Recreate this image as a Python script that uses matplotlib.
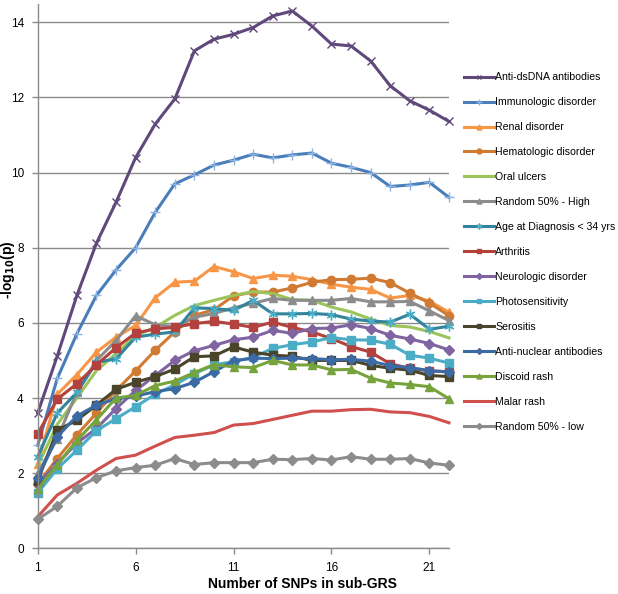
import matplotlib
matplotlib.use("Agg")
import matplotlib.pyplot as plt

plt.rcParams['font.family'] = ['Liberation Sans', 'DejaVu Sans']

n_snps = list(range(1, 23))

anti_dsdna = [3.6, 5.12, 6.73, 8.12, 9.21, 10.40, 11.29, 11.96, 13.24, 13.55, 13.68, 13.86,
              14.17, 14.30, 13.90, 13.42, 13.37, 12.97, 12.31, 11.91, 11.66, 11.36]
immunologic = [2.74, 4.52, 5.71, 6.73, 7.41, 8.0, 8.94, 9.70, 9.94, 10.20, 10.33, 10.49,
               10.39, 10.47, 10.52, 10.25, 10.14, 10.0, 9.63, 9.67, 9.74, 9.34]
renal = [2.25, 4.1, 4.62, 5.22, 5.62, 5.93, 6.67, 7.08, 7.11, 7.50, 7.36, 7.18,
         7.27, 7.24, 7.15, 7.03, 6.95, 6.89, 6.66, 6.73, 6.58, 6.28]
hematologic = [1.72, 2.39, 3.02, 3.6, 4.2, 4.72, 5.27, 5.76, 6.2, 6.35, 6.72, 6.82,
               6.82, 6.93, 7.08, 7.15, 7.16, 7.19, 7.07, 6.79, 6.53, 6.19]
oral_ulcers = [2.2, 3.3, 4.0, 4.73, 5.18, 5.66, 5.88, 6.2, 6.46, 6.6, 6.73, 6.83,
               6.78, 6.62, 6.6, 6.42, 6.29, 6.1, 5.93, 5.89, 5.77, 5.6]
random_high = [2.0, 2.92, 4.16, 5.0, 5.53, 6.19, 5.95, 5.9, 6.15, 6.25, 6.4, 6.52,
               6.65, 6.6, 6.6, 6.6, 6.65, 6.56, 6.56, 6.57, 6.32, 6.06]
age_lt34 = [2.44, 3.6, 4.15, 4.95, 5.04, 5.62, 5.7, 5.76, 6.4, 6.38, 6.33, 6.6,
            6.24, 6.24, 6.25, 6.22, 6.1, 6.05, 6.02, 6.23, 5.83, 5.91]
arthritis = [3.05, 3.97, 4.38, 4.88, 5.34, 5.73, 5.84, 5.88, 5.98, 6.04, 5.97, 5.88,
             6.02, 5.88, 5.76, 5.58, 5.37, 5.22, 4.91, 4.79, 4.72, 4.70]
neurologic = [1.72, 2.25, 2.8, 3.19, 3.72, 4.2, 4.6, 5.0, 5.26, 5.4, 5.55, 5.62,
              5.8, 5.72, 5.85, 5.86, 5.95, 5.85, 5.67, 5.57, 5.45, 5.28]
photosensitivity = [1.47, 2.12, 2.61, 3.13, 3.45, 3.77, 4.1, 4.35, 4.65, 4.88, 4.97, 5.08,
                    5.32, 5.42, 5.49, 5.61, 5.55, 5.54, 5.43, 5.14, 5.06, 4.93]
serositis = [1.8, 3.14, 3.41, 3.81, 4.23, 4.42, 4.57, 4.77, 5.1, 5.12, 5.36, 5.22,
             5.14, 5.11, 5.0, 5.0, 5.0, 4.87, 4.79, 4.74, 4.6, 4.57]
ana = [1.88, 2.97, 3.52, 3.81, 3.98, 4.05, 4.17, 4.25, 4.42, 4.7, 4.99, 5.06,
       5.05, 5.06, 5.05, 5.02, 5.03, 4.98, 4.86, 4.81, 4.73, 4.69]
discoid = [1.57, 2.23, 2.87, 3.42, 4.0, 4.07, 4.33, 4.45, 4.68, 4.89, 4.83, 4.81,
           5.0, 4.88, 4.88, 4.75, 4.76, 4.53, 4.4, 4.36, 4.3, 3.98]
malar = [0.84, 1.42, 1.73, 2.08, 2.39, 2.48, 2.72, 2.95, 3.01, 3.08, 3.28, 3.32,
         3.43, 3.54, 3.65, 3.65, 3.69, 3.7, 3.63, 3.61, 3.51, 3.34]
random_low = [0.77, 1.12, 1.61, 1.88, 2.06, 2.15, 2.21, 2.39, 2.23, 2.28, 2.28, 2.28,
              2.37, 2.36, 2.39, 2.35, 2.44, 2.37, 2.37, 2.39, 2.27, 2.21]

labels = ["Anti-dsDNA antibodies", "Immunologic disorder", "Renal disorder",
          "Hematologic disorder", "Oral ulcers", "Random 50% - High",
          "Age at Diagnosis < 34 yrs", "Arthritis", "Neurologic disorder",
          "Photosensitivity", "Serositis", "Anti-nuclear antibodies",
          "Discoid rash", "Malar rash", "Random 50% - low"]
series = [anti_dsdna, immunologic, renal, hematologic, oral_ulcers, random_high,
          age_lt34, arthritis, neurologic, photosensitivity, serositis, ana,
          discoid, malar, random_low]

styles = [
    dict(color="#5F497A", marker="x", ms=6, mew=1.0),
    dict(color="#4A7EBB", marker="+", ms=7, mew=1.0, mec="#8DB3E2"),
    dict(color="#F79646", marker="^", ms=6),
    dict(color="#D07A34", marker="o", ms=6),
    dict(color="#9BC45A", marker=None),
    dict(color="#8C8C8C", marker="^", ms=6),
    dict(color="#31849B", marker=(6, 2, 0), ms=7, mew=1.0, mec="#4BACC6"),
    dict(color="#B3413E", marker="s", ms=5.5),
    dict(color="#8064A2", marker="D", ms=5),
    dict(color="#4BACC6", marker="s", ms=5.5),
    dict(color="#4A452A", marker="s", ms=5.5),
    dict(color="#3C6AA5", marker="D", ms=5),
    dict(color="#77A33C", marker="^", ms=6),
    dict(color="#D0504D", marker=None),
    dict(color="#8C8C8C", marker="D", ms=5),
]

fig = plt.figure(figsize=(6.18, 5.94), dpi=100)
ax = fig.add_axes([37.7 / 618, 1 - 548.3 / 594, (449 - 37.7) / 618, (548.3 - 3.5) / 594])

handles = []
for vals, lab, st in zip(series, labels, styles):
    st = dict(st)
    color = st.pop("color")
    marker = st.pop("marker")
    ms = st.pop("ms", 6)
    mew = st.pop("mew", 1.0)
    mec = st.pop("mec", color)
    h, = ax.plot(n_snps, vals, color=color, lw=2.2, marker=marker, markersize=ms,
                 markeredgewidth=mew, markeredgecolor=mec, markerfacecolor=color,
                 label=lab, solid_joinstyle="round", clip_on=False)
    handles.append(h)

ax.set_xlim(1, 22)
ax.set_ylim(0, 14.5)
ax.set_yticks(range(0, 15, 2))
ax.set_xticks([1, 6, 11, 16, 21])
ax.grid(axis="y", color="#8A8A8A", lw=1.0)
ax.set_axisbelow(True)
for s in ["top", "right"]:
    ax.spines[s].set_visible(False)
for s in ["left", "bottom"]:
    ax.spines[s].set_color("#8A8A8A")
    ax.spines[s].set_linewidth(1.0)
ax.tick_params(axis="both", colors="#8A8A8A", labelcolor="black", labelsize=8.5,
               length=4, width=1)
ax.tick_params(axis="y", pad=6)
ax.tick_params(axis="x", pad=6)

fig.text(302 / 618, 1 - 584 / 594, "Number of SNPs in sub-GRS", fontsize=10,
         fontweight="bold", ha="center", va="center")
fig.text(8 / 618, 1 - 270 / 594, r"-log$_{\mathbf{10}}$(p)", fontsize=10,
         fontweight="bold", ha="center", va="center", rotation=90)

fig.legend(handles=handles, labels=labels, loc="upper left",
           bbox_to_anchor=(460 / 618, 1 - 68 / 594), frameon=False, fontsize=7.6,
           handlelength=2.8, handletextpad=0.15, labelspacing=1.42,
           borderaxespad=0, markerscale=0.6)

fig.savefig("out.png", dpi=100)
